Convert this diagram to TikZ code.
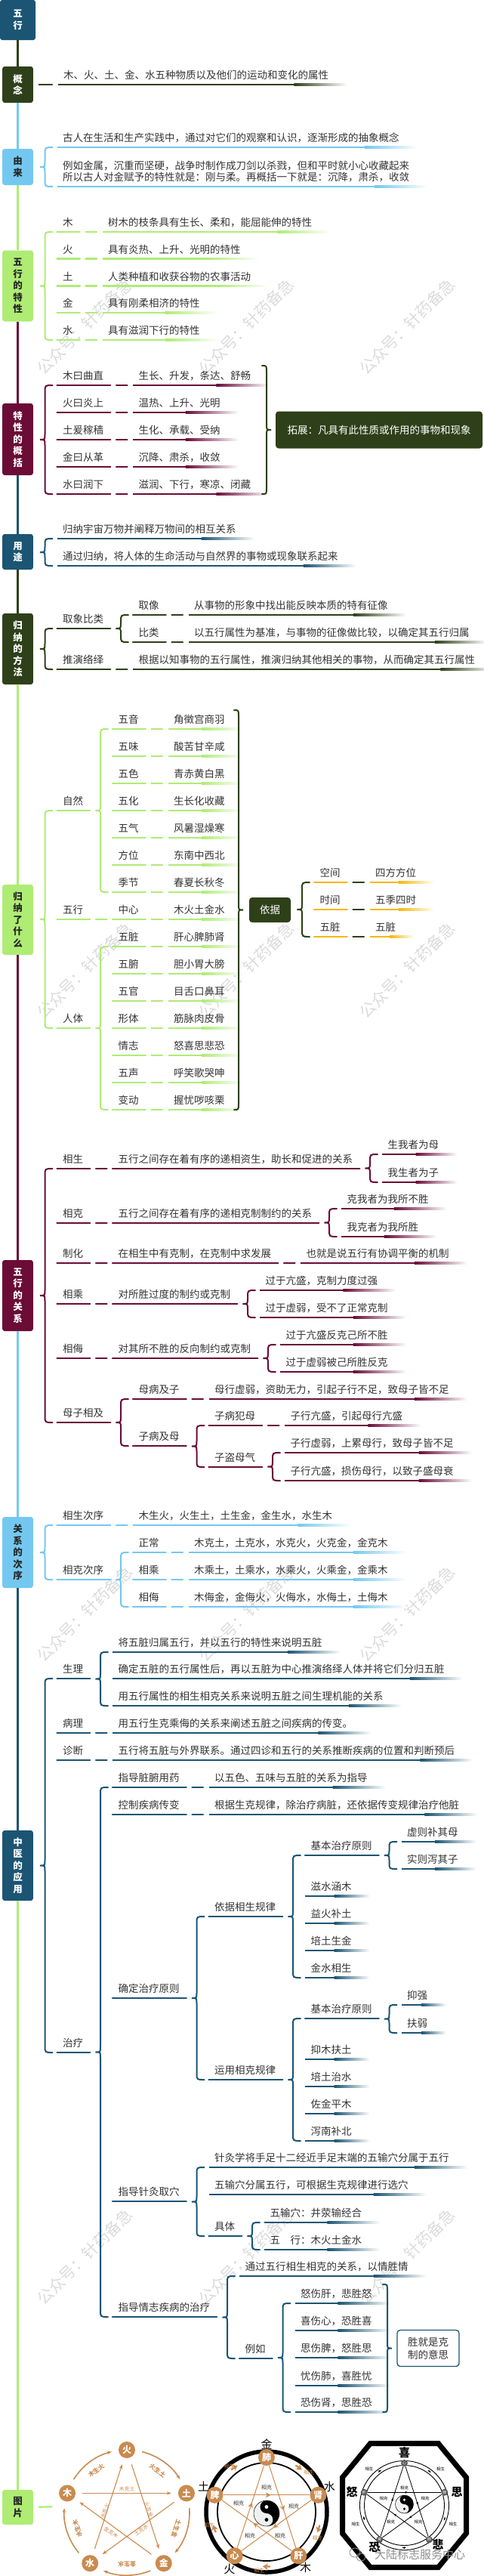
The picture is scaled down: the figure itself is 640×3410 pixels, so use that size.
\documentclass[tikz,border=0pt]{standalone}
\usepackage{fontspec}
\setmainfont{Noto Sans CJK SC}
\usetikzlibrary{calc,arrows.meta,decorations.markings}

\definecolor{teal5}{HTML}{1B5573}
\definecolor{olive5}{HTML}{2E4019}
\definecolor{sky5}{HTML}{74C8F0}
\definecolor{lime5}{HTML}{AEEC74}
\definecolor{wine5}{HTML}{6A0C36}
\definecolor{gold5}{HTML}{F5B70A}
\definecolor{tan5}{HTML}{C98B4F}
\definecolor{ink5}{HTML}{333333}

\tikzset{
  topic/.style={rounded corners=3pt,minimum width=40.7pt,inner sep=0pt,align=center,font=\fontsize{12.5}{15.6}\selectfont\bfseries},
  itemtxt/.style={inner sep=0pt,anchor=base west,text=ink5,font=\fontsize{13.5}{15}\selectfont},
  uline/.style={line width=2.2pt,line cap=round},
  bline/.style={line width=2pt,line cap=round},
  dashc/.style={line width=2.2pt,line cap=round,shorten <=7.5pt,shorten >=7.5pt},
  spine/.style={line width=2.6pt},
  elem/.style={circle,fill=tan5,text=white,inner sep=0pt,minimum size=22pt,font=\fontsize{12}{12}\selectfont\bfseries},
  tinytxt/.style={inner sep=0pt,font=\fontsize{7}{7}\selectfont},
  wmark/.style={text=black!14,rotate=45,inner sep=0pt,font=\fontsize{21}{21}\selectfont},
  midarrow/.style={postaction={decorate},decoration={markings,mark=at position 0.55 with {\arrow{#1}}}},
  midarrow/.default={Stealth[length=7pt,width=7pt]},
}

\newcommand{\fadeul}[3]{%
  \path let \p1=(#2), \p2=(#3), \n1={max(\x2-\x1-70pt,0.45*(\x2-\x1))} in (\x1+\n1,\y1) coordinate (fu);
  \fill[#1] ($(#2)+(0,1.1)$) rectangle ($(fu)+(0,-1.1)$);
  \shade[left color=#1,right color=white] ($(fu)+(0,1.1)$) rectangle ($(#3)+(0,-1.1)$);}
\newcommand{\keyat}[4]{%
  \coordinate (#1-l) at (#3);
  \node[itemtxt] (#1) at ($(#1-l)+(7.5,-7.5)$) {#4};
  \coordinate (#1-r) at ($(#1.base east)+(9,7.5)$);
  \draw[#2,uline] (#1-l) -- (#1-r);}
\newcommand{\leafat}[4]{%
  \coordinate (#1-l) at (#3);
  \node[itemtxt] (#1) at ($(#1-l)+(7.5,-7.5)$) {#4};
  \coordinate (#1-r) at ($(#1.base east)+(24,7.5)$);
  \fadeul{#2}{#1-l}{#1-r}}
\newcommand{\dashto}[3]{\draw[#1,dashc] (#2-r) -- (#3-l);}
\newcommand{\kvpair}[7]{\keyat{#1}{#2}{#3,#5}{#6}\leafat{#1v}{#2}{#4,#5}{#7}\dashto{#2}{#1}{#1v}}
\newcommand{\kkpair}[7]{\keyat{#1}{#2}{#3,#5}{#6}\keyat{#1v}{#2}{#4,#5}{#7}\dashto{#2}{#1}{#1v}}
\newcommand{\bracel}[3]{%
  \draw[#1,bline] let \p1=(#2-l), \p2=(#3-l), \p3=($(#2-l)!0.5!(#3-l)$) in
    (\x1-6pt,\y1) .. controls (\x1-16pt,\y1) .. (\x1-16pt,\y1-9pt)
    -- (\x1-16pt,\y3+7pt) .. controls (\x1-16pt,\y3) .. (\x1-22.5pt,\y3)
    .. controls (\x1-16pt,\y3) .. (\x1-16pt,\y3-7pt)
    -- (\x1-16pt,\y2+9pt) .. controls (\x1-16pt,\y2) .. (\x1-6pt,\y2);}
\newcommand{\bracer}[3]{%
  \draw[#1,bline] let \p1=(#2), \p2=(#3), \p3=($(#2)!0.5!(#3)$) in
    (\x1-6pt,\y1) .. controls (\x1,\y1) .. (\x1,\y1-8pt)
    -- (\x1,\y3+7pt) .. controls (\x1,\y3) .. (\x1+6pt,\y3)
    .. controls (\x1,\y3) .. (\x1,\y3-7pt)
    -- (\x1,\y2+8pt) .. controls (\x1,\y2) .. (\x1-6pt,\y2);}
\newcommand{\taiji}[1]{%
  \fill[black!6] (0,0) circle (#1);
  \fill[black] (0,#1) arc[start angle=90,end angle=-90,radius=#1] arc[start angle=-90,end angle=90,radius=#1/2] arc[start angle=-90,end angle=-270,radius=#1/2] -- cycle;
  \fill[white] (0,#1/2) circle (#1/7);
  \fill[black] (0,-#1/2) circle (#1/7);
  \draw[line width=0.5pt] (0,0) circle (#1);}

\begin{document}
\begin{tikzpicture}[x=1pt,y=-1pt]
\useasboundingbox (0,0) rectangle (640,3410);

\foreach \yy [count=\i] in {432,1284,2136,2987}
  \foreach \xx [count=\j] in {112,326,539}
    \node[wmark] (wm\i\j) at (\xx,\yy) {公众号：针药备急};

\node[topic,fill=teal5,text=white,minimum width=47pt,minimum height=53pt] (wx) at (23.5,26.5) {五\\行};
\node[topic,fill=olive5,text=white,minimum height=48pt] (gn) at (23.5,112) {概\\念};
\node[topic,fill=sky5,text=black!85,minimum height=48pt] (yl) at (23.5,221) {由\\来};
\node[topic,fill=lime5,text=black!85,minimum height=94pt] (tx) at (23.5,378.5) {五\\行\\的\\特\\性};
\node[topic,fill=wine5,text=white,minimum height=95pt] (gk) at (23.5,581.5) {特\\性\\的\\概\\括};
\node[topic,fill=teal5,text=white,minimum height=47pt] (yt) at (23.5,730.5) {用\\途};
\node[topic,fill=olive5,text=white,minimum height=94pt] (ff) at (23.5,859) {归\\纳\\的\\方\\法};
\node[topic,fill=lime5,text=black!85,minimum height=93pt] (gs) at (23.5,1217.5) {归\\纳\\了\\什\\么};
\node[topic,fill=wine5,text=white,minimum height=94pt] (gx) at (23.5,1715) {五\\行\\的\\关\\系};
\node[topic,fill=sky5,text=black!85,minimum height=94pt] (cx) at (23.5,2055) {关\\系\\的\\次\\序};
\node[topic,fill=teal5,text=white,minimum height=93pt] (yy) at (23.5,2469.5) {中\\医\\的\\应\\用};
\node[topic,fill=lime5,text=black!85,minimum height=46pt] (tp) at (23.5,3319) {图\\片};

\draw[olive5,spine] (wx.south) -- (gn.north);
\draw[sky5,spine] (gn.south) -- (yl.north);
\draw[lime5,spine] (yl.south) -- (tx.north);
\draw[wine5,spine] (tx.south) -- (gk.north);
\draw[teal5,spine] (gk.south) -- (yt.north);
\draw[olive5,spine] (yt.south) -- (ff.north);
\draw[lime5,spine] (ff.south) -- (gs.north);
\draw[wine5,spine] (gs.south) -- (gx.north);
\draw[sky5,spine] (gx.south) -- (cx.north);
\draw[teal5,spine] (cx.south) -- (yy.north);
\draw[lime5,spine] (yy.south) -- (tp.north);

\leafat{gn1}{olive5}{76.5,112}{木、火、土、金、水五种物质以及他们的运动和变化的属性}
\draw[olive5,dashc] (gn.east) -- (gn1-l);

\leafat{yl1}{sky5}{75.5,195}{古人在生活和生产实践中，通过对它们的观察和认识，逐渐形成的抽象概念}
\coordinate (yl2-l) at (75.5,247);
\node[itemtxt,anchor=south west,align=left] (yl2) at (83,241) {例如金属，沉重而坚硬，战争时制作成刀剑以杀戮，但和平时就小心收藏起来\\所以古人对金赋予的特性就是：刚与柔。再概括一下就是：沉降，肃杀，收敛};
\coordinate (yl2-r) at ($(yl2.south east)+(24,6)$);
\fadeul{sky5}{yl2-l}{yl2-r}
\bracel{sky5}{yl1}{yl2}

\kvpair{tx1}{lime5}{75.5}{135.5}{307}{木}{树木的枝条具有生长、柔和，能屈能伸的特性}
\kvpair{tx2}{lime5}{75.5}{135.5}{342.5}{火}{具有炎热、上升、光明的特性}
\kvpair{tx3}{lime5}{75.5}{135.5}{378.5}{土}{人类种植和收获谷物的农事活动}
\kvpair{tx4}{lime5}{75.5}{135.5}{414}{金}{具有刚柔相济的特性}
\kvpair{tx5}{lime5}{75.5}{135.5}{450}{水}{具有滋润下行的特性}
\bracel{lime5}{tx1}{tx5}

\kvpair{gk1}{wine5}{75.5}{176}{510}{木曰曲直}{生长、升发，条达、舒畅}
\kvpair{gk2}{wine5}{75.5}{176}{546}{火曰炎上}{温热、上升、光明}
\kvpair{gk3}{wine5}{75.5}{176}{582}{土爰稼穑}{生化、承载、受纳}
\kvpair{gk4}{wine5}{75.5}{176}{618}{金曰从革}{沉降、肃杀，收敛}
\kvpair{gk5}{wine5}{75.5}{176}{654}{水曰润下}{滋润、下行，寒凉、闭藏}
\bracel{wine5}{gk1}{gk5}
\coordinate (gkt) at (353,484);
\coordinate (gkb) at (353,654);
\bracer{olive5}{gkt}{gkb}
\node[fill=olive5,text=white,rounded corners=4pt,minimum width=274pt,minimum height=49pt,inner sep=0pt,font=\fontsize{13.5}{15}\selectfont] (tz) at (502,569) {拓展：凡具有此性质或作用的事物和现象};

\leafat{yt1}{teal5}{75.5,713}{归纳宇宙万物并阐释万物间的相互关系}
\leafat{yt2}{teal5}{75.5,749}{通过归纳，将人体的生命活动与自然界的事物或现象联系起来}
\bracel{teal5}{yt1}{yt2}

\keyat{ff1}{olive5}{75.5,832}{取象比类}
\kvpair{ff11}{olive5}{176}{249.5}{814}{取像}{从事物的形象中找出能反映本质的特有征像}
\kvpair{ff12}{olive5}{176}{249.5}{850}{比类}{以五行属性为基准，与事物的征像做比较，以确定其五行归属}
\bracel{olive5}{ff11}{ff12}
\kvpair{ff2}{olive5}{75.5}{176}{886}{推演络绎}{根据以知事物的五行属性，推演归纳其他相关的事物，从而确定其五行属性}
\bracel{olive5}{ff1}{ff2}

\keyat{gs1}{lime5}{75.5,1073}{自然}
\kvpair{gs11}{lime5}{149}{222.5}{965}{五音}{角徵宫商羽}
\kvpair{gs12}{lime5}{149}{222.5}{1001}{五味}{酸苦甘辛咸}
\kvpair{gs13}{lime5}{149}{222.5}{1037}{五色}{青赤黄白黑}
\kvpair{gs14}{lime5}{149}{222.5}{1073}{五化}{生长化收藏}
\kvpair{gs15}{lime5}{149}{222.5}{1109}{五气}{风暑湿燥寒}
\kvpair{gs16}{lime5}{149}{222.5}{1145}{方位}{东南中西北}
\kvpair{gs17}{lime5}{149}{222.5}{1181}{季节}{春夏长秋冬}
\bracel{lime5}{gs11}{gs17}
\keyat{gs2}{lime5}{75.5,1217}{五行}
\kvpair{gs21}{lime5}{149}{222.5}{1217}{中心}{木火土金水}
\dashto{lime5}{gs2}{gs21}
\keyat{gs3}{lime5}{75.5,1361}{人体}
\kvpair{gs31}{lime5}{149}{222.5}{1253}{五脏}{肝心脾肺肾}
\kvpair{gs32}{lime5}{149}{222.5}{1289}{五腑}{胆小胃大膀}
\kvpair{gs33}{lime5}{149}{222.5}{1325}{五官}{目舌口鼻耳}
\kvpair{gs34}{lime5}{149}{222.5}{1361}{形体}{筋脉肉皮骨}
\kvpair{gs35}{lime5}{149}{222.5}{1397}{情志}{怒喜思悲恐}
\kvpair{gs36}{lime5}{149}{222.5}{1433}{五声}{呼笑歌哭呻}
\kvpair{gs37}{lime5}{149}{222.5}{1469}{变动}{握忧哕咳栗}
\bracel{lime5}{gs31}{gs37}
\bracel{lime5}{gs1}{gs3}
\coordinate (gst) at (316,940);
\coordinate (gsb) at (316,1469);
\bracer{olive5}{gst}{gsb}
\node[fill=olive5,text=white,rounded corners=4pt,minimum width=55pt,minimum height=33pt,inner sep=0pt,font=\fontsize{13.5}{15}\selectfont] (yj) at (357.5,1204.5) {依据};
\keyat{yj1}{gold5}{416,1168}{空间}\leafat{yj1v}{gold5}{489.5,1168}{四方方位}\dashto{olive5}{yj1}{yj1v}
\keyat{yj2}{gold5}{416,1204}{时间}\leafat{yj2v}{gold5}{489.5,1204}{五季四时}\dashto{olive5}{yj2}{yj2v}
\keyat{yj3}{gold5}{416,1240}{五脏}\leafat{yj3v}{gold5}{489.5,1240}{五脏}\dashto{olive5}{yj3}{yj3v}
\bracel{olive5}{yj1}{yj3}

\kkpair{gx1}{wine5}{75.5}{149}{1547}{相生}{五行之间存在着有序的递相资生，助长和促进的关系}
\leafat{gx11}{wine5}{506,1528}{生我者为母}
\leafat{gx12}{wine5}{506,1565}{我生者为子}
\bracel{wine5}{gx11}{gx12}
\kkpair{gx2}{wine5}{75.5}{149}{1619}{相克}{五行之间存在着有序的递相克制制约的关系}
\leafat{gx21}{wine5}{452,1600}{克我者为我所不胜}
\leafat{gx22}{wine5}{452,1637}{我克者为我所胜}
\bracel{wine5}{gx21}{gx22}
\kkpair{gx3}{wine5}{75.5}{149}{1672}{制化}{在相生中有克制，在克制中求发展}
\leafat{gx31}{wine5}{398,1672}{也就是说五行有协调平衡的机制}
\dashto{wine5}{gx3v}{gx31}
\kkpair{gx4}{wine5}{75.5}{149}{1726}{相乘}{对所胜过度的制约或克制}
\leafat{gx41}{wine5}{344,1708}{过于亢盛，克制力度过强}
\leafat{gx42}{wine5}{344,1744}{过于虚弱，受不了正常克制}
\bracel{wine5}{gx41}{gx42}
\kkpair{gx5}{wine5}{75.5}{149}{1798}{相侮}{对其所不胜的反向制约或克制}
\leafat{gx51}{wine5}{371,1780}{过于亢盛反克己所不胜}
\leafat{gx52}{wine5}{371,1816}{过于虚弱被己所胜反克}
\bracel{wine5}{gx51}{gx52}
\keyat{gx6}{wine5}{75.5,1883}{母子相及}
\kvpair{gx61}{wine5}{176}{276.5}{1852}{母病及子}{母行虚弱，资助无力，引起子行不足，致母子皆不足}
\keyat{gx62}{wine5}{176,1914}{子病及母}
\kvpair{gx621}{wine5}{276.5}{377}{1887}{子病犯母}{子行亢盛，引起母行亢盛}
\keyat{gx622}{wine5}{276.5,1942}{子盗母气}
\leafat{gx6221}{wine5}{377,1923}{子行虚弱，上累母行，致母子皆不足}
\leafat{gx6222}{wine5}{377,1960}{子行亢盛，损伤母行，以致子盛母衰}
\bracel{wine5}{gx6221}{gx6222}
\bracel{wine5}{gx621}{gx622}
\bracel{wine5}{gx61}{gx62}
\bracel{wine5}{gx1}{gx6}

\kvpair{cx1}{sky5}{75.5}{176}{2019}{相生次序}{木生火，火生土，土生金，金生水，水生木}
\keyat{cx2}{sky5}{75.5,2091}{相克次序}
\kvpair{cx21}{sky5}{176}{249.5}{2055}{正常}{木克土，土克水，水克火，火克金，金克木}
\kvpair{cx22}{sky5}{176}{249.5}{2091}{相乘}{木乘土，土乘水，水乘火，火乘金，金乘木}
\kvpair{cx23}{sky5}{176}{249.5}{2127}{相侮}{木侮金，金侮火，火侮水，水侮土，土侮木}
\bracel{sky5}{cx21}{cx23}
\bracel{sky5}{cx1}{cx2}

\keyat{yy1}{teal5}{75.5,2222}{生理}
\leafat{yy11}{teal5}{149,2187}{将五脏归属五行，并以五行的特性来说明五脏}
\leafat{yy12}{teal5}{149,2222}{确定五脏的五行属性后，再以五脏为中心推演络绎人体并将它们分归五脏}
\leafat{yy13}{teal5}{149,2258}{用五行属性的相生相克关系来说明五脏之间生理机能的关系}
\bracel{teal5}{yy11}{yy13}
\kvpair{yy2}{teal5}{75.5}{149}{2294}{病理}{用五行生克乘侮的关系来阐述五脏之间疾病的传变。}
\kvpair{yy3}{teal5}{75.5}{149}{2330}{诊断}{五行将五脏与外界联系。通过四诊和五行的关系推断疾病的位置和判断预后}
\keyat{yy4}{teal5}{75.5,2717}{治疗}
\kvpair{yy41}{teal5}{149}{276.5}{2366}{指导脏腑用药}{以五色、五味与五脏的关系为指导}
\kvpair{yy42}{teal5}{149}{276.5}{2402}{控制疾病传变}{根据生克规律，除治疗病脏，还依据传变规律治疗他脏}
\keyat{yy43}{teal5}{149,2645}{确定治疗原则}
\keyat{yy431}{teal5}{276.5,2537}{依据相生规律}
\keyat{yy4311}{teal5}{404,2456}{基本治疗原则}
\leafat{yy43111}{teal5}{531.5,2438}{虚则补其母}
\leafat{yy43112}{teal5}{531.5,2474}{实则泻其子}
\bracel{teal5}{yy43111}{yy43112}
\leafat{yy4312}{teal5}{404,2510}{滋水涵木}
\leafat{yy4313}{teal5}{404,2546}{益火补土}
\leafat{yy4314}{teal5}{404,2582}{培土生金}
\leafat{yy4315}{teal5}{404,2618}{金水相生}
\bracel{teal5}{yy4311}{yy4315}
\keyat{yy432}{teal5}{276.5,2753}{运用相克规律}
\keyat{yy4321}{teal5}{404,2672}{基本治疗原则}
\leafat{yy43211}{teal5}{531.5,2654}{抑强}
\leafat{yy43212}{teal5}{531.5,2691}{扶弱}
\bracel{teal5}{yy43211}{yy43212}
\leafat{yy4322}{teal5}{404,2726}{抑木扶土}
\leafat{yy4323}{teal5}{404,2762}{培土治水}
\leafat{yy4324}{teal5}{404,2798}{佐金平木}
\leafat{yy4325}{teal5}{404,2834}{泻南补北}
\bracel{teal5}{yy4321}{yy4325}
\bracel{teal5}{yy431}{yy432}
\keyat{yy44}{teal5}{149,2914}{指导针灸取穴}
\leafat{yy441}{teal5}{276.5,2869}{针灸学将手足十二经近手足末端的五输穴分属于五行}
\leafat{yy442}{teal5}{276.5,2905}{五输穴分属五行，可根据生克规律进行选穴}
\keyat{yy443}{teal5}{276.5,2960}{具体}
\leafat{yy4431}{teal5}{350,2942}{五输穴：井荥输经合}
\leafat{yy4432}{teal5}{350,2978}{五　行：木火土金水}
\bracel{teal5}{yy4431}{yy4432}
\bracel{teal5}{yy441}{yy443}
\keyat{yy45}{teal5}{149,3067}{指导情志疾病的治疗}
\leafat{yy451}{teal5}{317,3013}{通过五行相生相克的关系，以情胜情}
\keyat{yy452}{teal5}{317,3122}{例如}
\leafat{yy4521}{teal5}{390.5,3049}{怒伤肝，悲胜怒}
\leafat{yy4522}{teal5}{390.5,3085}{喜伤心，恐胜喜}
\leafat{yy4523}{teal5}{390.5,3121}{思伤脾，怒胜思}
\leafat{yy4524}{teal5}{390.5,3158}{忧伤肺，喜胜忧}
\leafat{yy4525}{teal5}{390.5,3193}{恐伤肾，思胜恐}
\bracel{teal5}{yy4521}{yy4525}
\bracel{teal5}{yy451}{yy452}
\coordinate (qzt) at (513,3024);
\coordinate (qzb) at (513,3193);
\bracer{teal5}{qzt}{qzb}
\node[draw=teal5,line width=1.3pt,fill=white,rounded corners=4pt,minimum width=82pt,minimum height=48pt,align=center,text=ink5,inner sep=0pt,font=\fontsize{13.5}{17}\selectfont] (sj) at (567,3108.5) {胜就是克\\制的意思};
\bracel{teal5}{yy41}{yy45}
\bracel{teal5}{yy1}{yy4}

\coordinate (pics) at (76,3318);
\draw[lime5,dashc] (tp.east) -- (pics);

\begin{scope}[shift={(168,3326)},yscale=-1]
  \foreach \ang/\lab/\nm in {90/火/ph,18/土/pt,-54/金/pj,-126/水/ps,162/木/pm}
    \node[elem] (\nm) at (\ang:83) {\lab};
  \foreach \ang in {76,4,-68,-140,148}
    \draw[tan5,line width=1.6pt,-{Stealth[length=6pt]}] (\ang:83) arc[start angle=\ang,end angle=\ang-44,radius=83];
  \foreach \ang/\lab [count=\i] in {126/木生火,54/火生土,-18/土生金,-90/金生水,-162/水生木}
    \node[inner sep=0pt,text=tan5,font=\fontsize{8}{8}\selectfont\bfseries,rotate=\ang-90] (sg\i) at (\ang:69) {\lab};
  \draw[tan5,line width=1.1pt,-{Stealth[length=6pt]},shorten <=9pt,shorten >=9pt] (pm) -- (pt);
  \draw[tan5,line width=1.1pt,-{Stealth[length=6pt]},shorten <=9pt,shorten >=9pt] (pt) -- (ps);
  \draw[tan5,line width=1.1pt,-{Stealth[length=6pt]},shorten <=9pt,shorten >=9pt] (ps) -- (ph);
  \draw[tan5,line width=1.1pt,-{Stealth[length=6pt]},shorten <=9pt,shorten >=9pt] (ph) -- (pj);
  \draw[tan5,line width=1.1pt,-{Stealth[length=6pt]},shorten <=9pt,shorten >=9pt] (pj) -- (pm);
  \node[tinytxt,text=tan5] (kk1) at (0,31) {木克土};
  \node[tinytxt,text=tan5,rotate=72] (kk2) at (-29,2) {水克火};
  \node[tinytxt,text=tan5,rotate=-72] (kk3) at (29,4) {火克金};
  \node[tinytxt,text=tan5,rotate=36] (kk4) at (19,-23) {土克水};
  \node[tinytxt,text=tan5,rotate=-36] (kk5) at (-21,-26) {金克木};
\end{scope}

\begin{scope}[shift={(353,3325)},yscale=-1]
  \draw[line width=5.5pt] (0,0) circle (80);
  \draw[line width=1.8pt] (0,0) circle (65);
  \foreach \ang in {130,58,-14,-86,-158}
    \draw[tan5,line width=2.2pt,-{Stealth[length=7pt,width=9pt]}] (\ang:72.5) arc[start angle=\ang,end angle=\ang-8,radius=72.5];
  \begin{scope}[shift={(0,-2)}]\taiji{17}\end{scope}
  \foreach \ang/\lab/\nm in {90/肺/qf,18/肾/qs,-54/肝/qg,-126/心/qx,162/脾/qp}
    \node[elem] (\nm) at (\ang:72) {\lab};
  \draw[tan5,line width=1pt,midarrow] (qf) -- (qg);
  \draw[tan5,line width=1pt,midarrow] (qg) -- (qp);
  \draw[tan5,line width=1pt,midarrow] (qp) -- (qs);
  \draw[tan5,line width=1pt,midarrow] (qs) -- (qx);
  \draw[tan5,line width=1pt,midarrow] (qx) -- (qf);
  \foreach \ang/\lab [count=\i] in {90/金,22/水,-55/木,-123/火,158/土}
    \node[inner sep=0pt,font=\fontsize{15}{15}\selectfont] (qo\i) at (\ang:90) {\lab};
  \foreach \pos [count=\i] in {{0,32},{-37,11},{36,7},{-22,-32},{18,-32}}
    \node[tinytxt,text=ink5] (qk\i) at (\pos) {相克};
  \foreach \ang/\rr [count=\i] in {129/78,43/77,-27/76,-97/78,-167/78}
    \node[tinytxt,text=tan5] (qq\i) at (\ang:\rr) {相生};
\end{scope}

\begin{scope}[shift={(535.5,3316.5)},yscale=-1]
  \draw[line width=7pt,line join=miter] (-45,82) -- (45,82) -- (82,37) -- (82,-37) -- (45,-82) -- (-45,-82) -- (-82,-37) -- (-82,37) -- cycle;
  \draw[line width=0.9pt] (0,0) circle (59);
  \draw[line width=0.9pt] (0,0) circle (53);
  \foreach \ang in {128,56,-16,-88,-160}
    \draw[line width=0.8pt,-{Stealth[length=4pt]}] (\ang:56) arc[start angle=\ang,end angle=\ang-5,radius=56];
  \begin{scope}[shift={(0,1.5)}]\taiji{12}\end{scope}
  \foreach \ang/\lab/\nm in {90/心/rx,18/脾/rp,-54/肺/rf,-126/肾/rs,162/肝/rg}
    \node[circle,fill=black!65,text=white,inner sep=0pt,minimum size=9pt,font=\fontsize{5}{5}\selectfont] (\nm) at (\ang:56) {\lab};
  \draw[line width=0.8pt,midarrow={Stealth[length=4pt]}] (rx) -- (rf);
  \draw[line width=0.8pt,midarrow={Stealth[length=4pt]}] (rf) -- (rg);
  \draw[line width=0.8pt,midarrow={Stealth[length=4pt]}] (rg) -- (rp);
  \draw[line width=0.8pt,midarrow={Stealth[length=4pt]}] (rp) -- (rs);
  \draw[line width=0.8pt,midarrow={Stealth[length=4pt]}] (rs) -- (rx);
  \node[inner sep=0pt,font=\fontsize{15}{15}\selectfont\bfseries] (em1) at (0,69.5) {喜};
  \node[inner sep=0pt,font=\fontsize{15}{15}\selectfont\bfseries] (em2) at (69.5,17.5) {思};
  \node[inner sep=0pt,font=\fontsize{15}{15}\selectfont\bfseries] (em3) at (44.5,-51.5) {悲};
  \node[inner sep=0pt,font=\fontsize{15}{15}\selectfont\bfseries] (em4) at (-39.5,-55.5) {恐};
  \node[inner sep=0pt,font=\fontsize{15}{15}\selectfont\bfseries] (em5) at (-69.5,17.5) {怒};
  \foreach \pos [count=\i] in {{-46.5,48.5},{48,48.5},{-64.5,-24.5},{64.5,-24.5}}
    \node[inner sep=0pt,font=\fontsize{5.5}{5.5}\selectfont] (rq\i) at (\pos) {相生};
  \foreach \pos [count=\i] in {{0,23.5},{-27.5,9.5},{27.5,9.5},{-18,-21.5},{18.5,-21.5}}
    \node[inner sep=0pt,font=\fontsize{5.5}{5.5}\selectfont] (rk\i) at (\pos) {相克};
\end{scope}

\draw[black!45,line width=0.8pt] (470,3379) ellipse (7 and 6);
\draw[black!45,line width=0.8pt] (478,3385) ellipse (6 and 5);
\node[inner sep=0pt,text=black!45,font=\fontsize{15}{15}\selectfont] (wmk) at (556,3382) {大陆标志服务中心};
\end{tikzpicture}
\end{document}
